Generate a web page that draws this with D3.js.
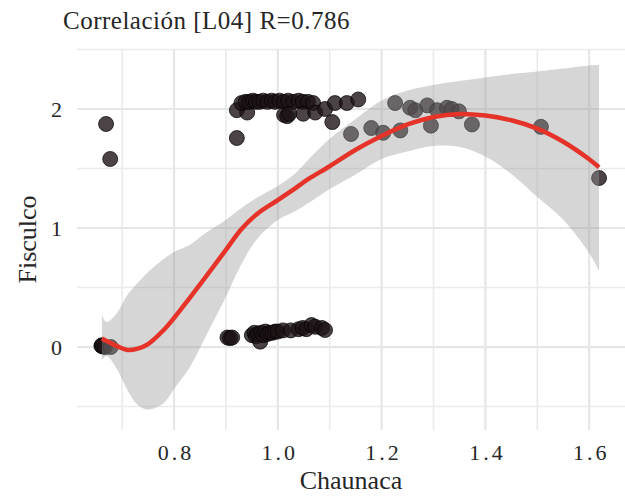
<!DOCTYPE html>
<html><head><meta charset="utf-8">
<script src="https://cdn.jsdelivr.net/npm/d3@7"></script>
<style>
body{margin:0;background:#fff}
svg{display:block}
text{font-family:"Liberation Serif","Times New Roman",serif;fill:#262626}
</style>
</head><body>
<svg id="c" width="625" height="496"></svg>
<script>
// ---- data ----
const chaunaca = [
  0.660,0.661,0.663,0.667,0.678,
  0.669,0.677,
  0.903,0.908,0.912,
  0.950,0.955,0.958,0.962,0.966,0.968,0.972,0.976,0.980,0.985,0.990,0.995,1.000,1.010,1.025,1.040,1.048,1.055,1.065,1.072,1.085,1.091,
  0.921,0.921,0.941,
  0.930,0.938,0.945,0.952,0.958,0.965,0.972,0.980,0.988,0.995,1.003,1.012,1.020,1.030,1.040,1.048,1.058,1.068,
  1.012,1.018,1.022,
  1.049,1.072,1.091,1.105,1.110,1.133,1.155,
  1.226,1.255,1.265,1.288,1.307,1.326,1.335,1.349,
  1.141,1.180,1.203,1.236,1.295,1.374,1.507,1.619
];
const fisculco = [
  0.010,0.015,0.005,0.000,0.000,
  1.874,1.580,
  0.080,0.075,0.080,
  0.100,0.120,0.090,0.110,0.045,0.120,0.100,0.130,0.110,0.120,0.120,0.130,0.130,0.140,0.140,0.150,0.160,0.150,0.185,0.170,0.160,0.143,
  1.990,1.756,1.970,
  2.050,2.060,2.060,2.070,2.060,2.060,2.070,2.060,2.070,2.060,2.070,2.060,2.070,2.060,2.070,2.060,2.060,2.050,
  1.950,1.940,1.960,
  1.960,1.970,2.000,1.890,2.050,2.050,2.080,
  2.050,2.010,1.990,2.030,1.990,2.010,2.000,1.980,
  1.790,1.840,1.800,1.820,1.860,1.870,1.850,1.420
];
// loess fit and its confidence band
const fitX = [0.661,0.67,0.69,0.71,0.73,0.75,0.78,0.80,0.83,0.86,0.90,0.93,0.96,1.00,1.03,1.06,1.10,1.15,1.20,1.25,1.30,1.35,1.40,1.45,1.50,1.55,1.60,1.619];
const fitY = [0.072,0.050,0.008,-0.025,-0.013,0.025,0.143,0.244,0.412,0.583,0.817,0.992,1.118,1.234,1.323,1.415,1.519,1.658,1.773,1.870,1.933,1.958,1.945,1.905,1.835,1.725,1.578,1.510];
const fitUpper = [0.269,0.210,0.286,0.437,0.538,0.630,0.739,0.798,0.857,0.955,1.070,1.168,1.256,1.353,1.445,1.580,1.750,1.916,2.071,2.155,2.202,2.235,2.265,2.294,2.314,2.340,2.366,2.370];
const fitLower = [-0.109,-0.076,-0.185,-0.361,-0.487,-0.527,-0.471,-0.353,-0.172,0.080,0.422,0.697,0.908,1.067,1.134,1.213,1.328,1.450,1.580,1.643,1.689,1.681,1.601,1.454,1.261,1.070,0.790,0.640];

const xTicks = [0.8,1.0,1.2,1.4,1.6];
const xMinor = [0.7,0.9,1.1,1.3,1.5];
const yTicks = [0,1,2];
const yMinor = [-0.5,0.5,1.5,2.5];
const titleText = "Correlación [L04] R=0.786";
const xTitle = "Chaunaca";
const yTitle = "Fisculco";

// ---- drawing ----
const svg = d3.select("#c");
const L = 77, R = 625, T = 49, B = 430;
const x = d3.scaleLinear().domain([0.613,1.669]).range([L,R]);
const y = d3.scaleLinear().domain([-0.697,2.504]).range([B,T]);

const grid = svg.append("g");
grid.selectAll(".vm").data(xMinor).join("line")
  .attr("x1",d=>x(d)).attr("x2",d=>x(d)).attr("y1",T).attr("y2",B)
  .attr("stroke","#ebebeb").attr("stroke-width",1.6);
grid.selectAll(".hm").data(yMinor).join("line")
  .attr("y1",d=>y(d)).attr("y2",d=>y(d)).attr("x1",L).attr("x2",R)
  .attr("stroke","#ebebeb").attr("stroke-width",1.6);
grid.selectAll(".vM").data(xTicks).join("line")
  .attr("x1",d=>x(d)).attr("x2",d=>x(d)).attr("y1",T).attr("y2",B)
  .attr("stroke","#e6e6e6").attr("stroke-width",2.2);
grid.selectAll(".hM").data(yTicks).join("line")
  .attr("y1",d=>y(d)).attr("y2",d=>y(d)).attr("x1",L).attr("x2",R)
  .attr("stroke","#e6e6e6").attr("stroke-width",2.2);

// points
const pts = chaunaca.map((v,i)=>({x:v,y:fisculco[i]}));
svg.append("g").selectAll("circle").data(pts).join("circle")
  .attr("cx",d=>x(d.x)).attr("cy",d=>y(d.y)).attr("r",7.5)
  .attr("fill","#1e1416").attr("fill-opacity",0.8)
  .attr("stroke","#000").attr("stroke-opacity",0.7).attr("stroke-width",1);

// band
const band = fitX.map((v,i)=>({x:v,lo:fitLower[i],hi:fitUpper[i],f:fitY[i]}));
svg.append("path").datum(band)
  .attr("d",d3.area().x(d=>x(d.x)).y0(d=>y(d.lo)).y1(d=>y(d.hi)).curve(d3.curveCatmullRom.alpha(0.5)))
  .attr("fill","#999999").attr("fill-opacity",0.4);
svg.append("path").datum(band)
  .attr("d",d3.line().x(d=>x(d.x)).y(d=>y(d.f)).curve(d3.curveCatmullRom.alpha(0.5)))
  .attr("fill","none").attr("stroke","#e5332a").attr("stroke-width",4.5);

// axes
const ax = svg.append("g").attr("transform",`translate(0,${B})`)
  .call(d3.axisBottom(x).tickValues(xTicks).tickFormat(d3.format(".1f")).tickSize(0).tickPadding(14));
ax.select(".domain").remove();
ax.selectAll("text").style("font-family",'"Liberation Serif",serif').style("font-size","22px")
  .style("letter-spacing","3px").attr("dx","1.5px").attr("fill","#262626");
const ay = svg.append("g").attr("transform",`translate(${L},0)`)
  .call(d3.axisLeft(y).tickValues(yTicks).tickFormat(d3.format("d")).tickSize(0).tickPadding(15));
ay.select(".domain").remove();
ay.selectAll("text").style("font-family",'"Liberation Serif",serif').style("font-size","22px").attr("fill","#262626");

svg.append("text").attr("x",63).attr("y",29).style("font-size","25px").style("letter-spacing","0.5px").text(titleText);
svg.append("text").attr("x",(L+R)/2).attr("y",489).attr("text-anchor","middle").style("font-size","26px").text(xTitle);
svg.append("text").attr("transform",`translate(36,${(T+B)/2}) rotate(-90)`).attr("text-anchor","middle").style("font-size","26px").text(yTitle);
</script>
</body></html>
